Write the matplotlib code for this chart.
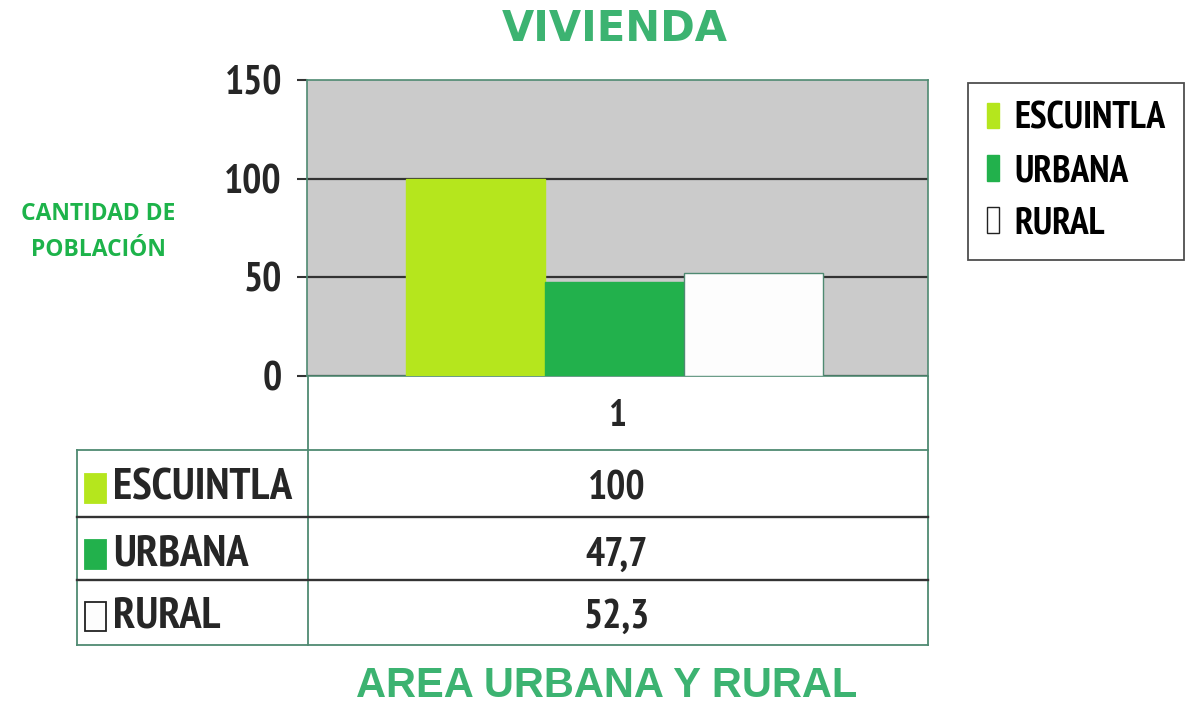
import matplotlib.pyplot as plt
from matplotlib.patches import Rectangle

# data
categories = ["ESCUINTLA", "URBANA", "RURAL"]
values = [100, 47.7, 52.3]
value_labels = ["100", "47,7", "52,3"]
colors = ["#b5e61d", "#22b14c", "#fdfdfd"]
yticks = [0, 50, 100, 150]
group_label = "1"

green_text = "#3cb371"
frame_col = "#4f8a72"
narrow = ["PT Sans Narrow", "Roboto Condensed", "Archivo Narrow",
          "Liberation Sans", "DejaVu Sans"]
txt_col = "#262626"

W, H = 1186, 706
fig = plt.figure(figsize=(W / 100, H / 100), dpi=100)
fig.patch.set_facecolor("white")


def fx(px):
    return px / W


def fy(py):
    return 1 - py / H


# main plot area
ax = fig.add_axes([fx(307), fy(376), fx(928) - fx(307), fy(80) - fy(376)])
ax.set_facecolor("#cbcbcb")
ax.set_ylim(0, 150)
ax.set_xlim(-0.5, 0.5)
ax.set_yticks(yticks)
ax.set_yticklabels([str(t) for t in yticks], family=narrow, fontweight="bold",
                   fontsize=29, color=txt_col)
ax.set_xticks([])
ax.tick_params(axis="y", length=7, width=1.5, color="#333333", pad=11)
for t in yticks[:-1]:
    ax.axhline(t, color="#333333", lw=1.6, zorder=1)
for s in ax.spines.values():
    s.set_color(frame_col)
    s.set_linewidth(1.2)

bw = 0.2237
center = -0.005
for i, (v, c) in enumerate(zip(values, colors)):
    ax.bar(center + (i - 1) * bw, v, width=bw, color=c,
           edgecolor=(frame_col if c == "#fdfdfd" else c), lw=1.0, zorder=3)

# table below the chart
axt = fig.add_axes([fx(75), fy(648), fx(930) - fx(75), fy(376) - fy(648)])
axt.set_xlim(75, 930)
axt.set_ylim(648, 376)
axt.axis("off")
axt.plot([308, 308], [376, 645], color=frame_col, lw=1.3)
axt.plot([928, 928], [376, 645], color=frame_col, lw=1.3)
axt.plot([77, 77], [450, 645], color=frame_col, lw=1.3)
axt.plot([77, 928], [450, 450], color=frame_col, lw=1.3)
axt.plot([77, 928], [517, 517], color="#333333", lw=1.7)
axt.plot([77, 928], [580, 580], color="#333333", lw=1.7)
axt.plot([77, 928], [645, 645], color=frame_col, lw=1.3)
axt.text(617, 416, group_label, ha="center", va="center", family=narrow,
         fontweight="bold", fontsize=27, color=txt_col)
row_y = [489, 555, 617]
for cat, lab, c, y in zip(categories, value_labels, colors, row_y):
    axt.add_patch(Rectangle((85, y - 15), 21, 29, facecolor=c,
                            edgecolor=("#222222" if c == "#fdfdfd" else c), lw=1.3))
    axt.text(113, y, cat, ha="left", va="center", family=narrow,
             fontweight="bold", fontsize=32, color=txt_col)
    axt.text(617, y, lab, ha="center", va="center", family=narrow,
             fontweight="bold", fontsize=29, color=txt_col)

# legend
handles = [Rectangle((0, 0), 1, 1, facecolor=c,
                     edgecolor=("#222222" if c == "#fdfdfd" else c))
           for c in colors]
leg = fig.legend(handles, categories, loc="upper left",
                 bbox_to_anchor=(fx(968), fy(83)), borderaxespad=0,
                 frameon=True, fancybox=False,
                 handlelength=0.33, handleheight=0.67, handletextpad=0.4,
                 labelspacing=0.46, borderpad=0.5,
                 prop={"family": narrow, "weight": "bold", "size": 27})
leg.get_frame().set_edgecolor("#222222")
leg.get_frame().set_linewidth(1.3)

# titles
fig.text(fx(615), fy(29), "VIVIENDA", ha="center", va="center",
         family="DejaVu Sans", fontweight="bold", fontsize=30, color=green_text)
fig.text(fx(607), fy(686), "AREA URBANA Y RURAL", ha="center", va="center",
         family="Liberation Sans", fontweight="bold", fontsize=30, color=green_text)
fig.text(fx(98), fy(232), "CANTIDAD DE\nPOBLACIÓN", ha="center", va="center",
         family="Open Sans", fontweight="bold", fontsize=16.5, color="#1db34a",
         linespacing=1.72)

fig.savefig("out.png", dpi=100)
